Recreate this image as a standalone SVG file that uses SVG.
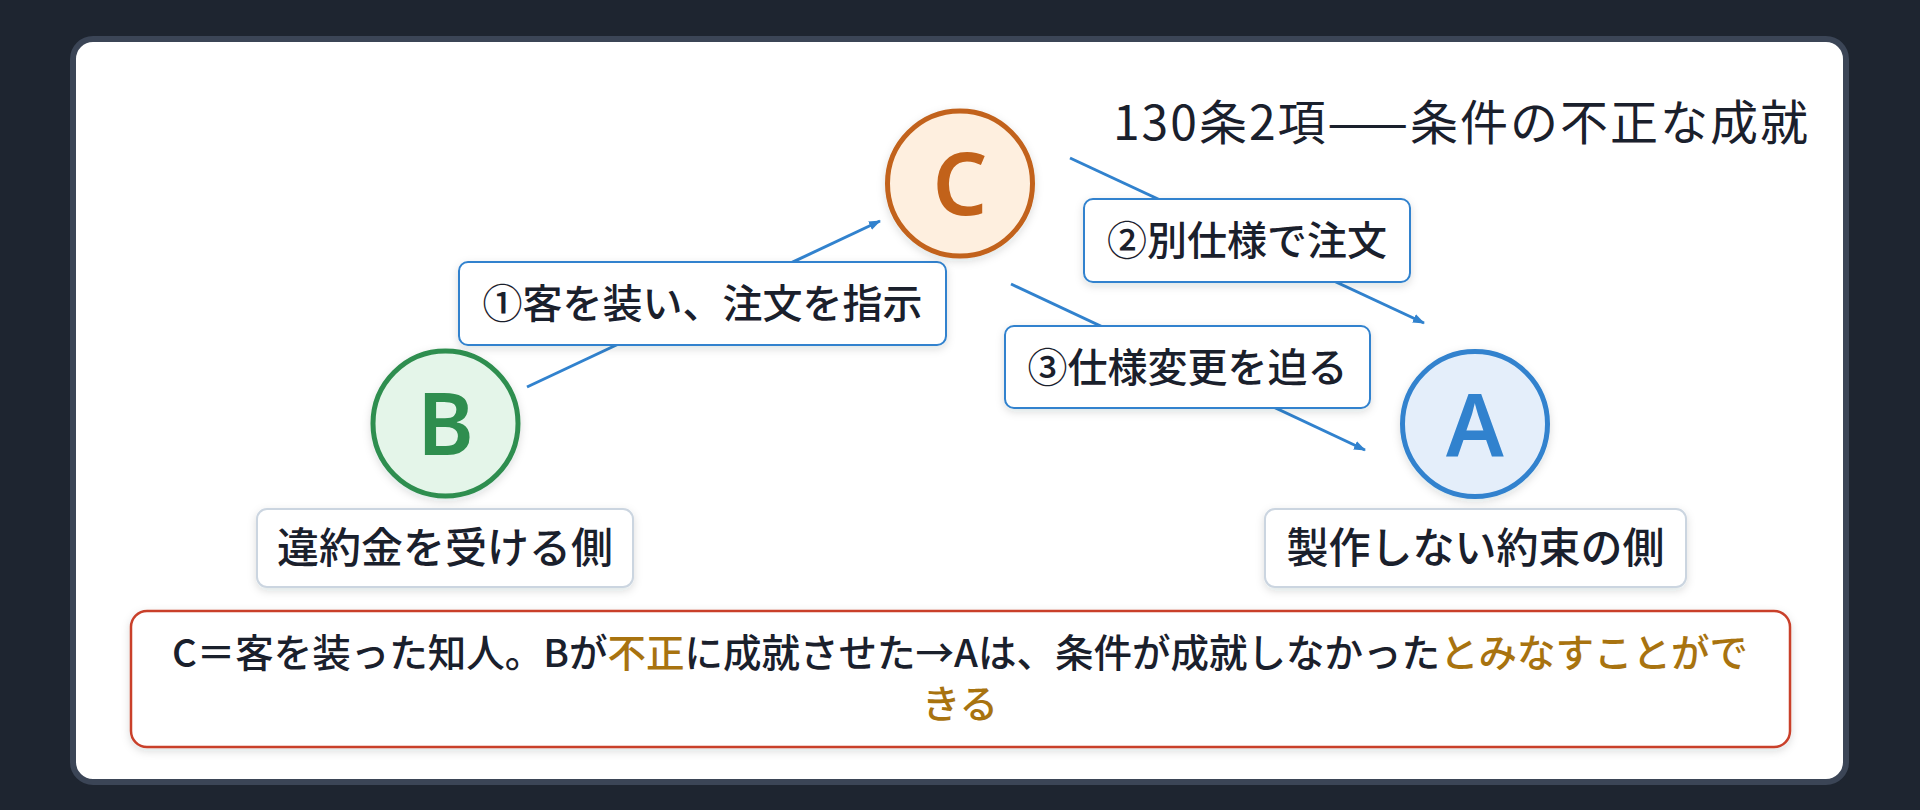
<svg xmlns="http://www.w3.org/2000/svg" width="1920" height="810" viewBox="0 0 1920 810">
  <defs>
    <filter id="sh" x="-20%" y="-20%" width="140%" height="150%">
      <feDropShadow dx="0" dy="3" stdDeviation="4" flood-color="#1a202c" flood-opacity="0.14"/>
    </filter>
    <marker id="arr" markerWidth="12" markerHeight="10" refX="11" refY="5" orient="auto" markerUnits="userSpaceOnUse">
      <path d="M0,0.5 L12,5 L0,9.5 z" fill="#3182ce"/>
    </marker>
    <style>
      .t { font-family: "Noto Sans CJK JP", "Noto Sans", sans-serif; fill: #1a202c; font-weight: 500; }
      .title { font-weight: 400; }
      .lt { font-family: "Noto Sans", "Liberation Sans", sans-serif; font-weight: 600; font-size: 86px; text-anchor: middle; }
      .edge { stroke: #3182ce; stroke-width: 3; fill: none; marker-end: url(#arr); }
      .elbl { fill: #ffffff; stroke: #3182ce; stroke-width: 2; }
      .nlbl { fill: #ffffff; stroke: #cbd5e0; stroke-width: 2; }
      .hl { fill: #a8730f; }
    </style>
  </defs>

  <rect x="0" y="0" width="1920" height="810" fill="#1e2530"/>
  <rect x="73" y="39" width="1773" height="743" rx="20" fill="#ffffff" stroke="#3b4556" stroke-width="6"/>

  <text class="t title" x="1810" y="140" font-size="48" letter-spacing="2" text-anchor="end">130条2項——条件の不正な成就</text>

  <g id="connectors">
    <line class="edge" x1="527" y1="387" x2="880" y2="221"/>
    <line class="edge" x1="1070" y1="158" x2="1424" y2="323"/>
    <line class="edge" x1="1011" y1="284" x2="1365" y2="450"/>
  </g>

  <g id="edge-label-1">
    <rect class="elbl" x="459" y="262" width="487" height="83" rx="9" filter="url(#sh)"/>
    <text class="t" x="702.5" y="318" font-size="40" text-anchor="middle">①客を装い、注文を指示</text>
  </g>
  <g id="edge-label-2">
    <rect class="elbl" x="1084" y="199" width="326" height="83" rx="9" filter="url(#sh)"/>
    <text class="t" x="1247" y="255" font-size="40" text-anchor="middle">②別仕様で注文</text>
  </g>
  <g id="edge-label-3">
    <rect class="elbl" x="1005" y="326" width="365" height="82" rx="9" filter="url(#sh)"/>
    <text class="t" x="1187.5" y="381.5" font-size="40" text-anchor="middle">③仕様変更を迫る</text>
  </g>

  <g id="node-C">
    <circle cx="960" cy="183.5" r="72.5" fill="#feefdf" stroke="#c2621a" stroke-width="5" filter="url(#sh)"/>
    <text class="lt" x="960" y="215" fill="#c2621a">C</text>
  </g>
  <g id="node-B">
    <circle cx="445.5" cy="423.5" r="72.5" fill="#e4f5e9" stroke="#2f8e4f" stroke-width="5" filter="url(#sh)"/>
    <text class="lt" x="445.5" y="455" fill="#2f8e4f">B</text>
  </g>
  <g id="node-A">
    <circle cx="1475" cy="424" r="72.5" fill="#e4eefa" stroke="#3182ce" stroke-width="5" filter="url(#sh)"/>
    <text class="lt" x="1475" y="455.5" fill="#3182ce">A</text>
  </g>

  <g id="label-B">
    <rect class="nlbl" x="257" y="509" width="376" height="78" rx="10" filter="url(#sh)"/>
    <text class="t" x="445" y="563" font-size="42" text-anchor="middle">違約金を受ける側</text>
  </g>
  <g id="label-A">
    <rect class="nlbl" x="1265" y="509" width="421" height="78" rx="10" filter="url(#sh)"/>
    <text class="t" x="1475.5" y="563" font-size="42" text-anchor="middle">製作しない約束の側</text>
  </g>

  <g id="note">
    <rect x="131" y="611" width="1659" height="136" rx="16" fill="#ffffff" stroke="#c9412b" stroke-width="2.5" filter="url(#sh)"/>
    <text class="t" x="960" y="667" font-size="38.5" text-anchor="middle">C＝客を装った知人。Bが<tspan class="hl">不正</tspan>に成就させた→Aは、条件が成就しなかった<tspan class="hl">とみなすことがで</tspan></text>
    <text class="t hl" x="960" y="718" font-size="38.5" text-anchor="middle">きる</text>
  </g>
</svg>
